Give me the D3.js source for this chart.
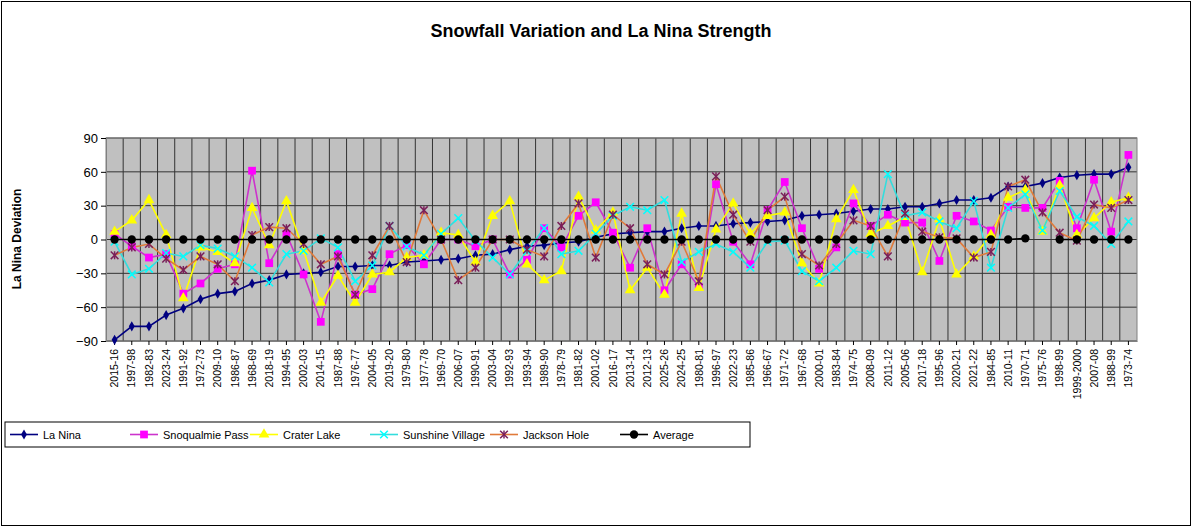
<!DOCTYPE html>
<html>
<head>
<meta charset="utf-8">
<script src="https://cdn.jsdelivr.net/npm/d3@7"></script>
<style>
  body { margin: 0; background: #fff; }
  svg { font-family: Arial, "Liberation Sans", sans-serif; }
</style>
</head>
<body>
<div id="vis"></div>
<script>
// seasons, ordered by La Nina strength
const seasons = ['2015-16','1997-98','1982-83','2023-24','1991-92','1972-73','2009-10','1986-87','1968-69','2018-19',
  '1994-95','2002-03','2014-15','1987-88','1976-77','2004-05','2019-20','1979-80','1977-78','1969-70',
  '2006-07','1990-91','2003-04','1992-93','1993-94','1989-90','1978-79','1981-82','2001-02','2016-17',
  '2013-14','2012-13','2025-26','2024-25','1980-81','1996-97','2022-23','1985-86','1966-67','1971-72',
  '1967-68','2000-01','1983-84','1974-75','2008-09','2011-12','2005-06','2017-18','1995-96','2020-21',
  '2021-22','1984-85','2010-11','1970-71','1975-76','1998-99','1999-2000','2007-08','1988-99','1973-74']

const laNina = [-89,-77,-77,-67,-61,-53,-48,-46,-39,-36,-31,-30,-29,-24,-24,-23,-23,-20,-19,-18,
  -17,-14,-13,-9,-6,-5,-3,-2,2,5,6,7,7,10,12,12,14,15,16,17,
  21,22,23,25,27,27,29,29,32,35,35,37,47,47,50,55,57,58,58,64]
const snoqualmie = [5,-6,-16,-13,-48,-39,-26,-22,61,-21,5,-31,-73,-13,-49,-44,-13,-5,-22,0,
  0,-6,0,-31,-18,10,-7,21,33,6,-25,10,-45,-22,-42,49,-2,-22,26,51,
  10,-26,-7,32,12,22,15,15,-19,21,16,8,29,28,28,52,10,53,7,75]
const craterLake = [7,17,35,4,-52,-7,-11,-21,28,-5,34,-10,-56,-32,-56,-31,-29,-16,-14,6,
  4,-20,21,34,-22,-36,-28,38,8,24,-45,-25,-49,23,-43,9,32,5,21,24,
  -21,-39,18,44,5,12,20,-29,18,-31,-15,4,37,44,7,48,4,19,33,37]
const sunshine = [-2,-31,-26,-12,-15,-5,-8,-15,-25,-38,-13,-10,1,-7,-37,-23,12,-6,-14,5,
  19,-1,-16,-31,-10,10,-13,-10,5,21,29,26,35,-20,-11,-4,-11,-25,-2,-1,
  -28,-37,-25,-10,-13,58,21,24,16,10,34,-25,28,40,8,43,20,12,-4,16]
const jackson = [-14,-7,-4,-17,-27,-15,-22,-37,4,11,10,-4,-22,-15,-49,-14,12,-20,26,0,
  -36,-25,0,0,-9,-15,12,32,-16,22,10,-22,-31,-2,-37,56,22,-2,26,38,
  -13,-23,-4,17,12,-15,23,7,2,1,-16,-11,47,53,24,6,-1,31,28,35]
const average = seasons.map((s, i) => i === 54 ? null : (i === 53 ? 1 : 0))

const yTicks = [-90,-60,-30,0,30,60,90]

const series = [
  {name: 'La Nina', values: laNina, line: '#000080', fill: '#000080', shape: 'diamond', size: 30},
  {name: 'Snoqualmie Pass', values: snoqualmie, line: '#cc33cc', fill: '#ff00ff', shape: 'square', size: 60},
  {name: 'Crater Lake', values: craterLake, line: '#ffff00', fill: '#ffff00', shape: 'triangle', size: 50},
  {name: 'Sunshine Village', values: sunshine, line: '#33dddd', fill: '#00ffff', shape: 'x', size: 40},
  {name: 'Jackson Hole', values: jackson, line: '#e07a3a', fill: '#7a1f5a', shape: 'star', size: 40},
  {name: 'Average', values: average, line: '#000000', fill: '#000000', shape: 'circle', size: 55}
]

const W = 1192, H = 532
const margin = {left: 106, top: 138, right: 55, bottom: 191}
const width = W - margin.left - margin.right
const height = H - margin.top - margin.bottom

const svg = d3.select('#vis').append('svg').attr('width', W).attr('height', H)

svg.append('rect').attr('x', 1.5).attr('y', 1.5).attr('width', W - 3).attr('height', H - 8)
  .attr('fill', '#fff').attr('stroke', '#000').attr('stroke-width', 1)

svg.append('text').attr('x', 601).attr('y', 37).attr('text-anchor', 'middle')
  .attr('font-size', 18).attr('font-weight', 'bold').text('Snowfall Variation and La Nina Strength')

svg.append('text').attr('transform', 'translate(21,239) rotate(-90)').attr('text-anchor', 'middle')
  .attr('font-size', 12).attr('font-weight', 'bold').text('La Nina Deviation')

const g = svg.append('g').attr('transform', `translate(${margin.left},${margin.top})`)

const x = d3.scaleBand().domain(seasons).range([0, width])
const y = d3.scaleLinear().domain([-90, 90]).range([height, 0])
const cx = d => x(d) + x.bandwidth() / 2

g.append('rect').attr('width', width).attr('height', height).attr('fill', '#c0c0c0')

// gridlines
g.selectAll('.vgrid').data(seasons.slice(1)).join('line')
  .attr('x1', d => x(d)).attr('x2', d => x(d)).attr('y1', 0).attr('y2', height)
  .attr('stroke', '#333').attr('stroke-width', 1)
g.selectAll('.hgrid').data(yTicks).join('line')
  .attr('x1', 0).attr('x2', width).attr('y1', d => y(d)).attr('y2', d => y(d))
  .attr('stroke', '#333').attr('stroke-width', 1)
g.append('rect').attr('width', width).attr('height', height).attr('fill', 'none').attr('stroke', '#808080')

const yAxis = g.append('g').call(d3.axisLeft(y).tickValues(yTicks).tickSize(5).tickSizeOuter(0))
yAxis.selectAll('text').attr('font-size', 13).attr('fill', '#000')
yAxis.select('.domain').attr('stroke', '#808080')

const xAxis = g.append('g').attr('transform', `translate(0,${height})`)
  .call(d3.axisBottom(x).tickSize(4).tickSizeOuter(0))
xAxis.selectAll('text').attr('font-size', 10.5).attr('fill', '#000')
  .attr('transform', 'rotate(-90)').attr('text-anchor', 'end')
  .attr('x', -8).attr('y', 0).attr('dy', '0.35em')
xAxis.select('.domain').attr('stroke', '#808080')

const symbols = {
  diamond: d3.symbolDiamond, square: d3.symbolSquare, triangle: d3.symbolTriangle,
  x: d3.symbolTimes, star: d3.symbolTimes, circle: d3.symbolCircle
}

function drawMarker(sel, s) {
  sel.append('path').attr('d', d3.symbol(symbols[s.shape], s.size)())
    .attr('fill', s.fill)
    .attr('stroke', s.shape === 'x' ? s.fill : (s.shape === 'star' ? s.fill : 'none'))
    .attr('stroke-width', s.shape === 'x' || s.shape === 'star' ? 1.5 : 0)
  if (s.shape === 'star') {
    sel.append('path').attr('d', 'M0,-4V4').attr('stroke', s.fill).attr('stroke-width', 1.5)
  }
}

const line = d3.line().defined(d => d.v !== null).x(d => cx(d.s)).y(d => y(d.v))

series.forEach(s => {
  const pts = seasons.map((k, i) => ({s: k, v: s.values[i]}))
  g.append('path').datum(pts).attr('d', line).attr('fill', 'none')
    .attr('stroke', s.line).attr('stroke-width', 1.6)
})
series.forEach(s => {
  const pts = seasons.map((k, i) => ({s: k, v: s.values[i]})).filter(d => d.v !== null)
  g.selectAll(null).data(pts).join('g')
    .attr('transform', d => `translate(${cx(d.s)},${y(d.v)})`)
    .each(function() { drawMarker(d3.select(this), s) })
})

// legend
const legend = svg.append('g').attr('transform', 'translate(5,422)')
legend.append('rect').attr('width', 745).attr('height', 25).attr('fill', '#fff').attr('stroke', '#000')
const legX = [5, 125, 245, 365, 485, 615]
series.forEach((s, i) => {
  const lg = legend.append('g').attr('transform', `translate(${legX[i]},12.5)`)
  lg.append('line').attr('x1', 0).attr('x2', 28).attr('stroke', s.line).attr('stroke-width', 1.6)
  drawMarker(lg.append('g').attr('transform', 'translate(14,0)'), s)
  lg.append('text').attr('x', 33).attr('y', 4).attr('font-size', 11).text(s.name)
})
</script>
</body>
</html>
